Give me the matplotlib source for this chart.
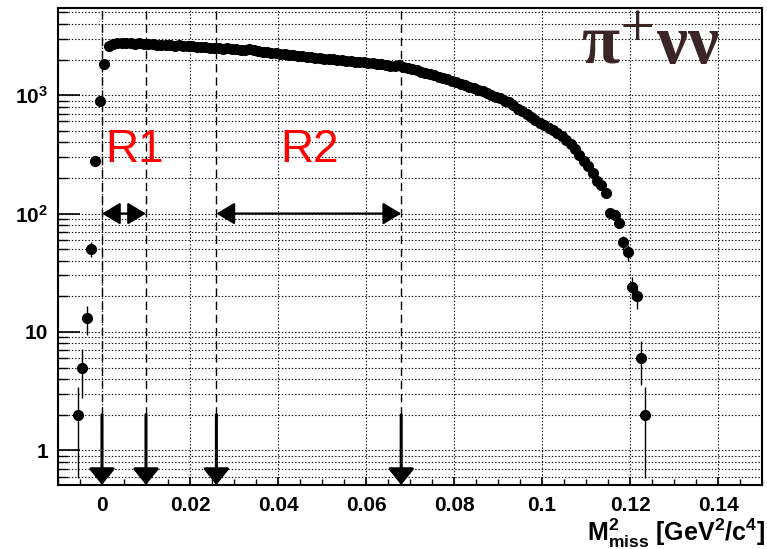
import numpy as np
import matplotlib
matplotlib.use("Agg")
import matplotlib.pyplot as plt
from matplotlib.ticker import LogLocator, MultipleLocator, NullFormatter

plt.rcParams["font.family"] = "Liberation Sans"
plt.rcParams["mathtext.fontset"] = "custom"
plt.rcParams["mathtext.rm"] = "Liberation Sans:bold"
plt.rcParams["mathtext.it"] = "Liberation Sans:bold"
plt.rcParams["mathtext.bf"] = "Liberation Sans:bold"
plt.rcParams["mathtext.default"] = "rm"

# Missing-mass-squared histogram: 0.001 GeV^2/c^4 bins starting at -0.006
bin_width = 0.001
first_edge = -0.006
counts = [
    2, 5, 13, 50, 280, 900, 1850, 2600, 2720, 2760,
    2740, 2780, 2750, 2720, 2740, 2700, 2680, 2700, 2660, 2650,
    2670, 2630, 2620, 2640, 2600, 2580, 2600, 2560, 2540, 2560,
    2510, 2500, 2490, 2470, 2480, 2450, 2440, 2420, 2400, 2460,
    2430, 2350, 2320, 2300, 2280, 2250, 2230, 2220, 2190, 2170,
    2160, 2140, 2110, 2100, 2080, 2070, 2040, 2030, 2010, 2000,
    1980, 1960, 1950, 1920, 1910, 1890, 1870, 1860, 1840, 1820,
    1800, 1780, 1760, 1800, 1720, 1690, 1660, 1620, 1580, 1540,
    1500, 1470, 1430, 1400, 1360, 1320, 1280, 1250, 1220, 1180,
    1140, 1110, 1075, 1040, 1000, 970, 940, 900, 870, 820,
    770, 740, 690, 650, 620, 580, 560, 530, 505, 480,
    450, 420, 390, 350, 310, 280, 250, 220, 190, 175,
    148, 102, 98, 84, 57, 47, 24, 20, 6, 2,
]

# Signal-region boundaries
region_names = ["R1", "R2"]
region_bounds = [(0.0, 0.01), (0.026, 0.068)]

x_ticks = [0.0, 0.02, 0.04, 0.06, 0.08, 0.1, 0.12, 0.14]
x_tick_labels = ["0", "0.02", "0.04", "0.06", "0.08", "0.1", "0.12", "0.14"]
y_ticks = [1, 10, 100, 1000]
y_tick_labels = ["1", "10", r"$10^{2}$", r"$10^{3}$"]

x_range = (-0.01, 0.15)
y_range = (0.51, 5500)

counts = np.asarray(counts, dtype=float)
edges = first_edge + bin_width * np.arange(len(counts) + 1)
centers = 0.5 * (edges[:-1] + edges[1:])
errors = np.sqrt(counts)

fig = plt.figure(figsize=(7.67, 5.49), dpi=100)
ax = fig.add_axes([0.0756, 0.1166, 0.9179, 0.8697])
ax.set_xlim(*x_range)
ax.set_yscale("log")
ax.set_ylim(*y_range)

# Axes styling
for sp in ax.spines.values():
    sp.set_linewidth(1.5)
ax.set_xticks(x_ticks)
ax.set_xticklabels(x_tick_labels, fontweight="bold")
ax.xaxis.set_minor_locator(MultipleLocator(0.005))
ax.set_yticks(y_ticks)
ax.set_yticklabels(y_tick_labels, fontweight="bold")
ax.yaxis.set_minor_locator(LogLocator(base=10, subs=np.arange(2, 10)))
ax.yaxis.set_minor_formatter(NullFormatter())
ax.tick_params(axis="both", which="both", direction="in", top=False, right=False)
ax.tick_params(axis="x", which="major", length=6, width=1.2, pad=8, labelsize=15)
ax.tick_params(axis="x", which="minor", length=4, width=1.0)
ax.tick_params(axis="y", which="major", length=15.5, width=1.2, pad=7, labelsize=15)
ax.tick_params(axis="y", which="minor", length=7, width=1.0)

grid_style = dict(color="black", linewidth=0.8, linestyle=(0, (1.2, 1.8)))
ax.grid(True, which="major", axis="x", **grid_style)
ax.grid(True, which="both", axis="y", **grid_style)
ax.set_axisbelow(True)

# Histogram points with Poisson errors
ax.errorbar(centers, counts, yerr=errors, fmt="o", color="black",
            ms=7, elinewidth=1.0, capsize=0, zorder=3)

# Cut positions: dashed guide lines ending in downward arrows
arrow_start = 2.0
cuts = sorted({b for pair in region_bounds for b in pair})
for xc in cuts:
    ax.plot([xc, xc], [arrow_start, y_range[1]], color="black", lw=1.0,
            linestyle=(0, (6, 3.5)), zorder=2)
    ax.annotate("", xy=(xc, y_range[0]), xytext=(xc, arrow_start),
                arrowprops=dict(arrowstyle="-|>,head_length=0.62,head_width=0.5",
                                color="black", lw=2.2, shrinkA=0, shrinkB=0,
                                mutation_scale=16), zorder=4)

# Region extents and labels
arrow_level = 100
label_level = 274
for name, (lo, hi) in zip(region_names, region_bounds):
    ax.annotate("", xy=(hi, arrow_level), xytext=(lo, arrow_level),
                arrowprops=dict(arrowstyle="<|-|>,head_length=0.7,head_width=0.42",
                                color="black", lw=1.6, shrinkA=0, shrinkB=0,
                                mutation_scale=16), zorder=4)
label_x = [0.0075, 0.0472]
for name, lx in zip(region_names, label_x):
    ax.text(lx, label_level, name, color="#ff0000", fontsize=33,
            ha="center", va="baseline", fontweight="normal", zorder=5)

# Channel label (upright serif Greek)
ax.text(0.841, 0.8805, r"π$^{+}$νν", transform=ax.transAxes,
        ha="center", va="baseline", fontsize=50, color="#3a2626",
        family="Liberation Serif", fontweight="bold",
        math_fontfamily="stix", zorder=5)

# Axis title, right-aligned under the axis
ax.text(1.004, -0.101, r"M$^{2}_{miss}$ [GeV$^{2}$/c$^{4}$]",
        transform=ax.transAxes, ha="right", va="center",
        fontsize=18, fontweight="bold")

fig.savefig("out.png", dpi=100)
